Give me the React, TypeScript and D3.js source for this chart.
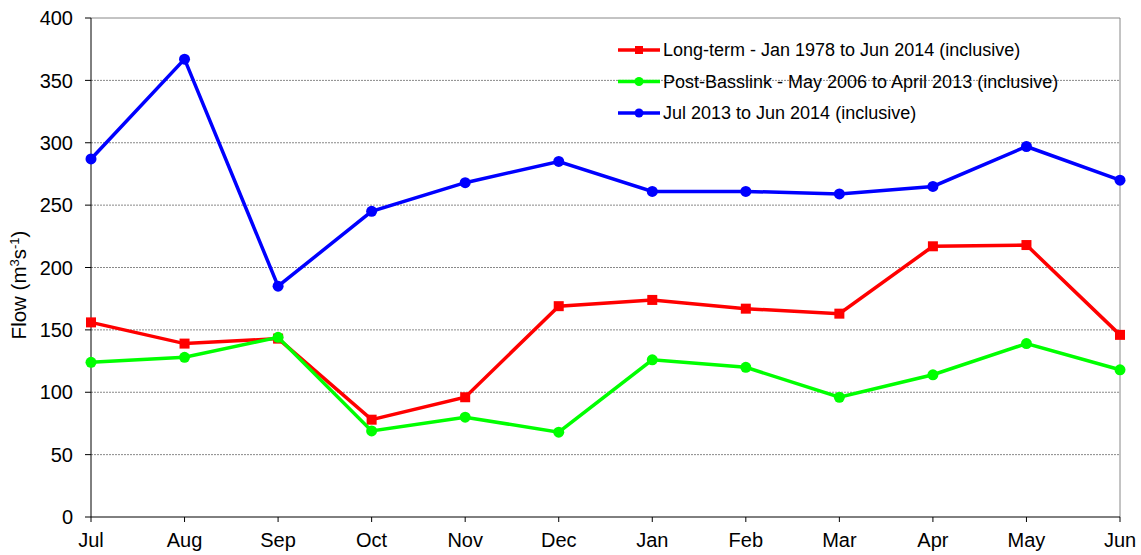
import React from "react";
import * as d3 from "d3";

const months = ["Jul", "Aug", "Sep", "Oct", "Nov", "Dec", "Jan", "Feb", "Mar", "Apr", "May", "Jun"];
const longTerm = [156, 139, 143, 78, 96, 169, 174, 167, 163, 217, 218, 146];
const postBasslink = [124, 128, 144, 69, 80, 68, 126, 120, 96, 114, 139, 118];
const recent = [287, 367, 185, 245, 268, 285, 261, 261, 259, 265, 297, 270];
const yTicks = [0, 50, 100, 150, 200, 250, 300, 350, 400];
const legendLabels = [
  "Long-term - Jan 1978 to Jun 2014 (inclusive)",
  "Post-Basslink - May 2006 to April 2013 (inclusive)",
  "Jul 2013 to Jun 2014 (inclusive)",
];

const W = 1141;
const H = 555;
const M = { left: 91, right: 1120, top: 18, bottom: 517 };

export default function App() {
  const x = d3.scalePoint<string>().domain(months).range([M.left, M.right]);
  const y = d3.scaleLinear().domain([0, 400]).range([M.bottom, M.top]);
  const line = d3
    .line<number>()
    .x((_, i) => x(months[i]) as number)
    .y((d) => y(d));

  const series = [
    { data: longTerm, color: "#ff0000", marker: "square" },
    { data: postBasslink, color: "#00ff00", marker: "circle" },
    { data: recent, color: "#0000ff", marker: "circle" },
  ];
  const font = "'Liberation Sans', Arial, sans-serif";

  return (
    <svg width={W} height={H} style={{ position: "absolute", left: 0, top: 0 }} fontFamily={font}>
      <rect width={W} height={H} fill="#fff" />
      {yTicks.map((t) => (
        <g key={t}>
          {t > 0 && (
            <line
              x1={M.left}
              x2={M.right}
              y1={y(t)}
              y2={y(t)}
              stroke="#888"
              strokeWidth={1}
              strokeDasharray={t === 400 ? undefined : "2,1"}
            />
          )}
          <line x1={M.left - 6} x2={M.left} y1={y(t)} y2={y(t)} stroke="#000" />
          <text x={M.left - 18} y={y(t)} dy="0.36em" textAnchor="end" fontSize={20}>
            {t}
          </text>
        </g>
      ))}
      <line x1={M.right} x2={M.right} y1={M.top} y2={M.bottom} stroke="#888" />
      <line x1={M.left} x2={M.left} y1={M.top} y2={M.bottom} stroke="#000" />
      <line x1={M.left} x2={M.right} y1={M.bottom} y2={M.bottom} stroke="#000" />
      {months.map((m) => (
        <g key={m}>
          <line x1={x(m)} x2={x(m)} y1={M.bottom} y2={M.bottom + 5} stroke="#000" />
          <text x={x(m)} y={M.bottom + 30} textAnchor="middle" fontSize={20}>
            {m}
          </text>
        </g>
      ))}
      <text transform={`translate(26,285) rotate(-90)`} textAnchor="middle" fontSize={20.5}>
        Flow (m<tspan dy="-7" fontSize={13}>3</tspan>
        <tspan dy="7">s</tspan>
        <tspan dy="-7" fontSize={13}>-1</tspan>
        <tspan dy="7">)</tspan>
      </text>
      {series.map((s, si) => (
        <g key={si}>
          <path d={line(s.data) as string} fill="none" stroke={s.color} strokeWidth={3.5} />
          {s.data.map((v, i) =>
            s.marker === "square" ? (
              <rect key={i} x={(x(months[i]) as number) - 5} y={y(v) - 5} width={10} height={10} fill={s.color} />
            ) : (
              <circle key={i} cx={x(months[i]) as number} cy={y(v)} r={5.5} fill={s.color} />
            )
          )}
        </g>
      ))}
      {series.map((s, si) => {
        const ly = 50 + si * 31.5;
        return (
          <g key={"l" + si}>
            <line x1={618} x2={660} y1={ly} y2={ly} stroke={s.color} strokeWidth={3.5} />
            {s.marker === "square" ? (
              <rect x={635} y={ly - 4} width={8} height={8} fill={s.color} />
            ) : (
              <circle cx={639} cy={ly} r={4.5} fill={s.color} />
            )}
            <text x={663} y={ly} dy="0.36em" fontSize={18}>
              {legendLabels[si]}
            </text>
          </g>
        );
      })}
    </svg>
  );
}
